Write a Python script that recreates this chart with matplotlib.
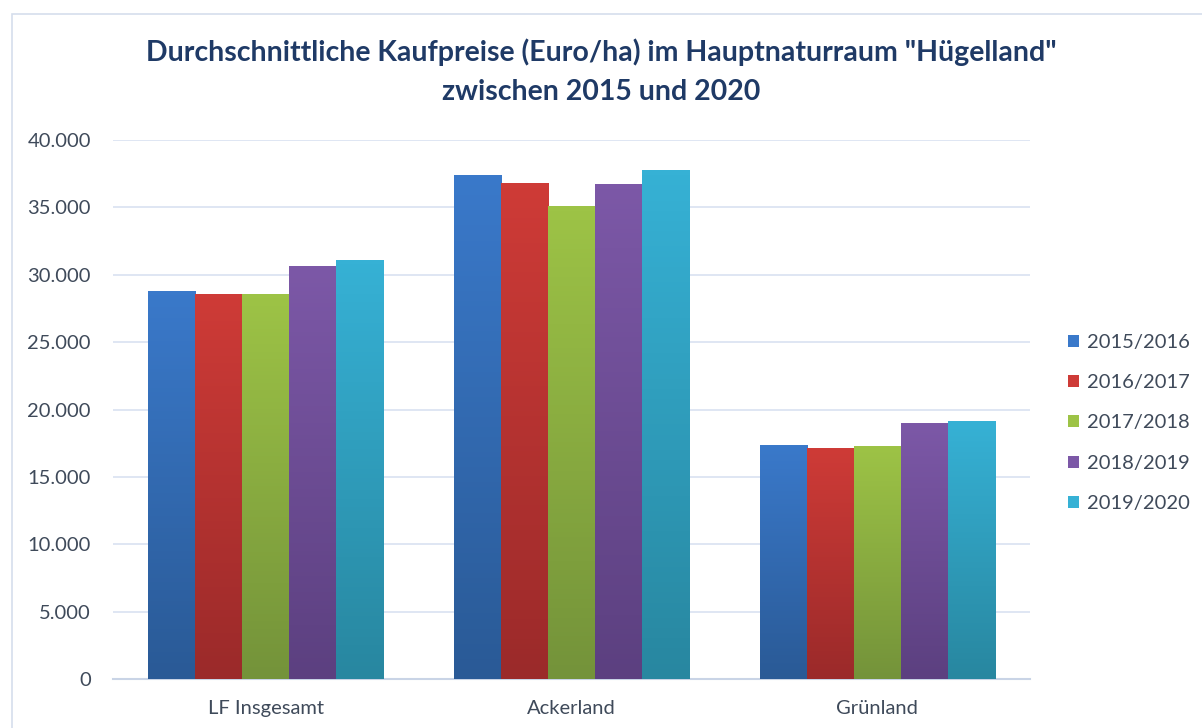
import numpy as np
import matplotlib
matplotlib.use("Agg")
import matplotlib.pyplot as plt
from matplotlib.patches import Rectangle
from matplotlib.ticker import FuncFormatter
from matplotlib.colors import LinearSegmentedColormap

plt.rcParams['font.family'] = ['Lato', 'DejaVu Sans']

# Daten (Euro/ha)
kategorien = ["LF Insgesamt", "Ackerland", "Grünland"]
jahre = ["2015/2016", "2016/2017", "2017/2018", "2018/2019", "2019/2020"]
w_2015 = [28740, 37380, 17360]
w_2016 = [28570, 36790, 17090]
w_2017 = [28520, 35050, 17240]
w_2018 = [30600, 36660, 18980]
w_2019 = [31040, 37770, 19100]
werte = [w_2015, w_2016, w_2017, w_2018, w_2019]

# Farben: oben hell, unten dunkel
farben_oben = ["#3A79CA", "#CE3B37", "#9DC346", "#7C58A7", "#36B1D5"]
farben_unten = ["#2A5A96", "#9B2A2A", "#74933A", "#5C4080", "#2887A0"]

fig = plt.figure(figsize=(12.02, 7.28), dpi=100)
ax = fig.add_axes([0.094, 0.0673, 0.763, 0.7404])

# Rahmen um das Diagramm
fig.patches.append(Rectangle((12 / 1202, -0.1), 1.2, 1 - 14 / 728 + 0.1,
                             transform=fig.transFigure, fill=False,
                             edgecolor="#D5DEEC", linewidth=1.2, zorder=0))

x = np.arange(len(kategorien))
breite = 0.154
n = len(jahre)
for i, (jahr, vals) in enumerate(zip(jahre, werte)):
    pos = x + (i - (n - 1) / 2) * breite
    bars = ax.bar(pos, vals, width=breite, color=farben_oben[i], label=jahr,
                  zorder=2, linewidth=0)
    cmap = LinearSegmentedColormap.from_list("g", [farben_unten[i], farben_oben[i]])
    grad = np.linspace(1, 0, 100).reshape(-1, 1)
    for b in bars:
        x0 = b.get_x()
        h = b.get_height()
        ax.imshow(grad, cmap=cmap, extent=[x0, x0 + b.get_width(), 0, h],
                  aspect='auto', zorder=3, vmin=0, vmax=1)

ax.set_xlim(-0.5, 2.5)
ax.set_ylim(0, 40000)
ax.set_yticks(np.arange(0, 40001, 5000))
ax.yaxis.set_major_formatter(FuncFormatter(lambda v, p: f"{int(v):,}".replace(",", ".")))
ax.set_xticks(x)
ax.set_xticklabels(kategorien)

ax.grid(axis='y', color="#D9E2F1", linewidth=1.2, zorder=0)
ax.set_axisbelow(True)
for s in ["top", "right", "left"]:
    ax.spines[s].set_visible(False)
ax.spines["bottom"].set_color("#C9D4E6")
ax.spines["bottom"].set_linewidth(1.5)
ax.tick_params(axis='both', length=0, labelsize=14.5, colors="#3F4A5A")
ax.tick_params(axis='y', pad=16)
ax.tick_params(axis='x', pad=15)

fig.text(0.5, 0.928, 'Durchschnittliche Kaufpreise (Euro/ha) im Hauptnaturraum "Hügelland"',
         ha='center', va='center', fontsize=20.5, fontweight='bold', color="#1F3A66")
fig.text(0.5, 0.873, 'zwischen 2015 und 2020',
         ha='center', va='center', fontsize=20.5, fontweight='bold', color="#1F3A66")

leg = ax.legend(loc='center left', bbox_to_anchor=(1.0, 0.475), frameon=False,
                fontsize=14.5, handlelength=0.55, handleheight=0.55,
                labelspacing=1.16, handletextpad=0.35, borderaxespad=1.5)
for t in leg.get_texts():
    t.set_color("#3F4A5A")

fig.savefig("out.png", dpi=100)
